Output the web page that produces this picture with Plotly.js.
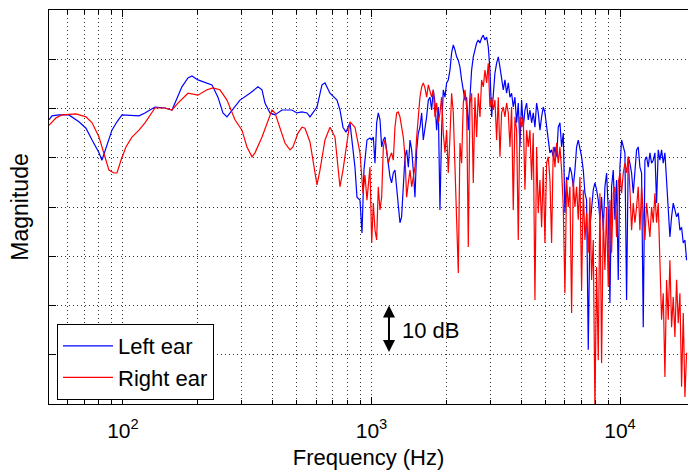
<!DOCTYPE html>
<html>
<head>
<meta charset="utf-8">
<script src="https://cdn.plot.ly/plotly-3.0.1.min.js"></script>
<style>html,body{margin:0;padding:0;background:#fff;}#chart{width:688px;height:470px;}</style>
</head>
<body>
<div id="chart"></div>
<script>
// ---- Low-frequency part (smooth) ----
const freqLowLeft = [50.4, 51.8, 55.3, 60.6, 66.5, 71.0, 75.1, 80.1, 82.3, 86.2, 90.3, 94.6, 99.1, 116.0, 122.6, 134.5, 147.6, 157.5, 161.9, 172.7, 182.6, 189.5, 200.3, 228.1, 241.1, 252.6, 262.1, 287.6, 295.7, 324.4, 349.4, 362.7, 372.8, 390.5, 408.9, 436.3, 478.7, 501.5, 525.2, 550.1, 565.6, 603.6, 632.1, 650.0, 680.8, 726.5, 746.8, 767.9, 789.5, 819.3, 834.6, 858.1, 874.1, 898.9, 915.8, 932.8, 959.1];
const dbLowLeft = [-22.3, -21.5, -21.3, -21.3, -22.7, -24.0, -26.4, -29.0, -30.5, -27.4, -24.4, -22.7, -21.3, -21.5, -20.9, -19.7, -19.9, -20.3, -18.9, -15.6, -13.8, -13.4, -14.2, -15.2, -17.7, -20.9, -21.7, -18.9, -18.3, -16.9, -15.6, -16.2, -18.9, -20.9, -21.3, -20.3, -20.3, -20.9, -20.7, -20.9, -21.7, -19.7, -15.2, -14.8, -16.9, -18.3, -20.3, -23.8, -24.8, -22.9, -26.4, -31.9, -38.0, -38.6, -45.3, -32.5, -26.4];
const freqLowRight = [50.4, 53.8, 56.8, 64.7, 71.0, 75.1, 80.1, 83.9, 87.8, 92.0, 94.6, 98.2, 102.8, 108.7, 116.0, 122.6, 134.5, 147.6, 157.5, 166.4, 182.6, 200.3, 217.8, 230.2, 245.6, 262.1, 282.3, 301.2, 315.5, 330.5, 339.8, 362.7, 379.8, 397.8, 408.9, 428.3, 448.6, 469.9, 483.2, 506.1, 525.2, 540.0, 565.6, 603.6, 620.5, 650.0, 680.8, 713.1, 746.8, 767.9, 796.8, 819.3, 858.1, 898.9, 924.3, 941.5, 959.1];
const dbLowRight = [-23.4, -21.9, -21.3, -21.1, -21.7, -22.9, -25.8, -29.0, -32.5, -33.1, -33.1, -30.5, -27.8, -25.8, -24.4, -22.9, -19.9, -19.9, -20.3, -18.9, -16.9, -17.3, -16.2, -15.8, -16.2, -18.3, -22.3, -24.4, -27.8, -29.8, -29.0, -25.8, -22.9, -20.3, -20.9, -23.8, -27.0, -28.4, -27.8, -25.0, -23.8, -24.0, -26.8, -35.5, -32.5, -26.4, -23.8, -25.8, -35.9, -32.5, -26.4, -22.7, -23.8, -29.0, -37.2, -33.5, -38.6];

// ---- High-frequency part (jagged) ----
const freqHigh = [
  986, 1002, 1017, 1033, 1049, 1065, 1082, 1099, 1116, 1133,
  1151, 1169, 1187, 1205, 1224, 1243, 1263, 1282, 1302, 1322,
  1343, 1364, 1385, 1407, 1429, 1451, 1473, 1496, 1520, 1543,
  1567, 1592, 1616, 1641, 1667, 1693, 1719, 1746, 1773, 1801,
  1829, 1857, 1886, 1915, 1945, 1976, 2006, 2037, 2069, 2101,
  2134, 2167, 2201, 2235, 2270, 2305, 2341, 2378, 2415, 2452,
  2490, 2529, 2568, 2608, 2649, 2690, 2732, 2774, 2818, 2861,
  2906, 2951, 2997, 3044, 3091, 3139, 3188, 3238, 3288, 3339,
  3391, 3444, 3497, 3552, 3607, 3663, 3720, 3778, 3837, 3897,
  3957, 4019, 4081, 4145, 4209, 4275, 4341, 4409, 4477, 4547,
  4618, 4690, 4763, 4837, 4912, 4988, 5066, 5145, 5225, 5306,
  5389, 5473, 5558, 5644, 5732, 5821, 5912, 6004, 6097, 6192,
  6288, 6386, 6485, 6586, 6689, 6793, 6899, 7006, 7115, 7226,
  7338, 7452, 7568, 7686, 7806, 7927, 8050, 8176, 8303, 8432,
  8563, 8696, 8832, 8969, 9109, 9250, 9394, 9540, 9689, 9840,
  9993, 10148, 10306, 10466, 10629, 10794, 10962, 11133, 11306, 11482,
  11661, 11842, 12026, 12213, 12403, 12596, 12792, 12991, 13193, 13399,
  13607, 13819, 14034, 14252, 14474, 14699, 14928, 15160, 15396, 15636,
  15879, 16126, 16377, 16632, 16891, 17154, 17421, 17692, 17967, 18247,
  18531];
const dbHighLeft = [
  -26.0, -26.4, -25.8, -31.1, -22.9, -20.9, -22.3, -27.8, -26.4, -25.8,
  -28.4, -31.1, -33.9, -35.1, -33.1, -32.5, -36.5, -39.2, -43.2, -42.0,
  -35.1, -29.8, -28.4, -31.9, -26.4, -28.4, -32.5, -38.0, -28.4, -25.0,
  -23.8, -20.9, -26.4, -24.4, -21.7, -18.3, -17.7, -20.3, -16.2, -18.9,
  -24.4, -19.7, -40.6, -24.4, -16.2, -17.7, -14.8, -14.2, -12.2, -8.7,
  -7.1, -8.1, -9.5, -10.2, -11.6, -14.2, -16.2, -18.3, -17.7, -24.4,
  -17.7, -12.2, -9.5, -8.1, -6.7, -6.1, -6.7, -5.7, -5.1, -6.1,
  -5.5, -7.5, -12.2, -21.7, -17.7, -12.8, -10.8, -9.5, -11.6, -13.6,
  -16.2, -14.2, -16.9, -14.8, -17.7, -16.9, -19.7, -17.7, -22.9, -18.9,
  -27.8, -18.3, -23.8, -20.3, -18.9, -22.3, -20.3, -22.9, -20.9, -23.8,
  -18.9, -20.9, -24.4, -21.7, -19.7, -20.9, -23.8, -25.8, -29.0, -28.4,
  -29.8, -27.8, -29.8, -23.8, -22.9, -27.8, -25.0, -41.2, -33.9, -34.5,
  -31.9, -33.1, -35.9, -32.5, -27.8, -26.4, -27.8, -29.8, -32.5, -37.2,
  -38.6, -69.0, -44.1, -40.0, -36.5, -35.1, -36.5, -38.6, -42.6, -38.0,
  -44.7, -35.9, -33.1, -40.6, -59.5, -35.9, -32.5, -42.6, -34.5, -54.8,
  -31.9, -26.4, -27.8, -29.0, -58.9, -29.8, -31.1, -33.1, -37.2, -33.1,
  -28.4, -27.8, -31.9, -33.1, -64.4, -30.5, -29.8, -31.9, -29.0, -31.1,
  -30.5, -29.0, -39.2, -28.4, -30.5, -28.4, -31.1, -29.0, -34.5, -39.2,
  -46.1, -42.0, -39.2, -40.6, -42.0, -41.2, -44.7, -44.1, -47.3, -46.7,
  -50.8];
const dbHighRight = [
  -31.9, -47.3, -39.2, -44.7, -46.7, -35.9, -40.6, -38.0, -27.8, -26.4,
  -29.0, -31.1, -29.8, -29.0, -30.5, -23.8, -20.9, -20.7, -21.7, -23.8,
  -25.8, -29.8, -38.0, -35.1, -32.5, -35.9, -33.9, -31.9, -25.8, -21.7,
  -17.7, -15.6, -14.8, -15.8, -17.7, -15.2, -16.2, -17.7, -16.2, -21.7,
  -18.9, -22.9, -20.9, -17.7, -25.0, -29.0, -24.4, -33.1, -25.8, -16.9,
  -20.9, -33.1, -44.7, -53.4, -27.0, -31.1, -18.9, -16.2, -19.7, -48.1,
  -18.9, -16.9, -35.1, -17.7, -25.8, -16.9, -21.7, -14.2, -15.6, -12.2,
  -14.8, -10.8, -19.7, -17.7, -20.3, -18.3, -26.4, -17.7, -29.8, -20.9,
  -19.7, -21.7, -18.9, -20.9, -27.8, -19.7, -40.6, -21.7, -24.4, -46.7,
  -21.7, -23.8, -21.7, -36.5, -24.4, -27.8, -24.4, -34.5, -25.0, -58.9,
  -27.8, -41.2, -34.5, -44.1, -31.9, -47.3, -31.1, -29.8, -34.5, -47.3,
  -27.8, -31.9, -27.0, -31.1, -27.8, -32.5, -40.0, -57.5, -34.5, -40.0,
  -35.9, -61.5, -34.5, -40.0, -35.9, -42.6, -33.9, -56.9, -36.5, -46.7,
  -41.2, -49.3, -38.0, -54.8, -46.7, -81.0, -52.2, -71.1, -37.2, -71.7,
  -42.0, -52.8, -40.0, -56.2, -38.6, -49.3, -37.2, -35.9, -46.1, -35.1,
  -33.1, -37.2, -33.1, -31.1, -33.1, -29.8, -36.5, -44.7, -39.2, -43.2,
  -40.0, -35.9, -44.7, -35.9, -41.2, -46.7, -39.2, -42.6, -46.1, -40.0,
  -43.2, -37.2, -43.2, -39.2, -50.8, -62.9, -57.5, -74.5, -54.8, -62.9,
  -50.8, -64.4, -58.3, -66.4, -54.8, -63.6, -57.5, -76.5, -61.5, -78.6,
  -69.6];

const seriesNames = ['Left ear', 'Right ear'];
const xTickVals = [100, 1000, 10000];
const xTickText = ['10<sup>2</sup>', '10<sup>3</sup>', '10<sup>4</sup>'];
const xMinorVals = [60, 70, 80, 90, 200, 300, 400, 500, 600, 700, 800, 900,
  2000, 3000, 4000, 5000, 6000, 7000, 8000, 9000, 20000];

const FONT = 'Liberation Sans, Arial, Helvetica, sans-serif';
const gridStyle = {gridcolor: '#333', griddash: '1px,3px', gridwidth: 1};

const traces = [
  {x: freqLowLeft.concat(freqHigh), y: dbLowLeft.concat(dbHighLeft), name: seriesNames[0],
   type: 'scatter', mode: 'lines', line: {color: '#0000ff', width: 1.2}},
  {x: freqLowRight.concat(freqHigh), y: dbLowRight.concat(dbHighRight), name: seriesNames[1],
   type: 'scatter', mode: 'lines', line: {color: '#ff0000', width: 1.2}}
];

const layout = {
  width: 688, height: 470,
  margin: {l: 49, r: 0, t: 10, b: 66},
  paper_bgcolor: '#fff', plot_bgcolor: '#fff',
  font: {family: FONT, color: '#000', size: 21},
  showlegend: true,
  legend: {x: 0.0125, y: 0.01, xanchor: 'left', yanchor: 'bottom', bgcolor: '#fff',
    bordercolor: '#000', borderwidth: 1, font: {family: FONT, size: 22, color: '#000'},
    tracegroupgap: 0, itemwidth: 50},
  xaxis: Object.assign({
    type: 'log', range: [1.7024, 4.2736],
    tickvals: xTickVals, ticktext: xTickText,
    ticks: 'inside', ticklen: 7, tickcolor: '#000',
    ticklabelstandoff: 8,
    showline: true, linecolor: '#000', linewidth: 1, mirror: 'ticks',
    showgrid: true, zeroline: false,
    tickfont: {family: FONT, size: 21, color: '#000'},
    minor: Object.assign({tickvals: xMinorVals, ticks: 'inside', ticklen: 4, tickcolor: '#000', showgrid: true}, gridStyle),
    title: {text: 'Frequency (Hz)', font: {family: FONT, size: 22, color: '#000'}, standoff: 9}
  }, gridStyle),
  yaxis: Object.assign({
    range: [-80, 0], tick0: 0, dtick: 10,
    ticks: 'inside', ticklen: 7, tickcolor: '#000',
    showticklabels: false,
    showline: true, linecolor: '#000', linewidth: 1, mirror: false,
    showgrid: true, zeroline: false,
    title: {text: 'Magnitude', font: {family: FONT, size: 23, color: '#000'}, standoff: 12}
  }, gridStyle),
  annotations: [
    {xref: 'x', yref: 'y', x: Math.log10(1176), y: -60, axref: 'pixel', ayref: 'pixel', ax: 0, ay: 48,
     text: '', showarrow: true, arrowside: 'end+start', arrowhead: 2, arrowsize: 1.2, arrowwidth: 2,
     arrowcolor: '#000', standoff: 0, startstandoff: 0},
    {xref: 'x', yref: 'y', x: Math.log10(1300), y: -65, text: '10 dB', showarrow: false,
     xanchor: 'left', yanchor: 'middle', font: {family: FONT, size: 22, color: '#000'}}
  ]
};

Plotly.newPlot('chart', traces, layout, {displayModeBar: false, staticPlot: true});
</script>
</body>
</html>
